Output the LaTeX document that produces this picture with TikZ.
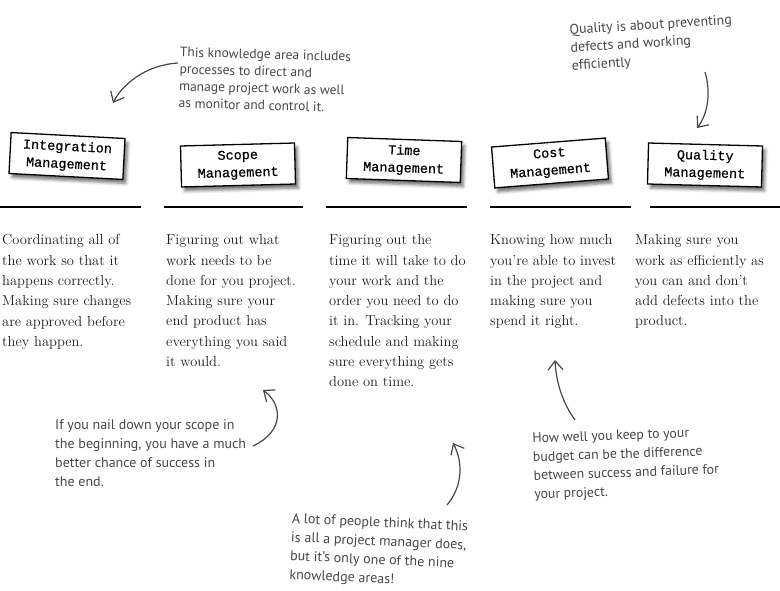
\documentclass[tikz,border=0pt]{standalone}
\usepackage{fontspec}
\newfontfamily\handfont{PT Sans}
\newfontfamily\boxfont[FakeBold=0.6]{Liberation Mono}
\usetikzlibrary{arrows.meta,shadows.blur}
\definecolor{inkgray}{HTML}{474747}
\definecolor{bodyink}{HTML}{1E1E1E}
\tikzset{
  areabox/.style={draw=black, line width=1.3pt, fill=white, minimum width=114pt,
    minimum height=41pt, inner sep=2pt, align=center, text=black,
    font=\boxfont\fontsize{13.5}{17.5}\selectfont,
    blur shadow={shadow xshift=3pt, shadow yshift=-4pt, shadow blur radius=3pt, shadow opacity=55}},
  bodytext/.style={anchor=north west, inner sep=0pt, align=left, text=bodyink,
    font=\fontsize{14.5}{20.3}\selectfont},
  note/.style={anchor=north west, inner sep=0pt, align=left, text=inkgray,
    font=\handfont\fontsize{14}{17}\selectfont},
  rule/.style={line width=1.4pt, black},
  pointer/.style={draw=inkgray, line width=1.2pt,
    -{Straight Barb[length=9pt,width=15pt,line width=1.2pt]}}
}
\begin{document}
\begin{tikzpicture}[x=1pt,y=-1pt]
\useasboundingbox (0,0) rectangle (780,591);

% boxes
\node[areabox, rotate=-3]   (integ) at (67,156)  {Integration\\Management};
\node[areabox, rotate=1.5]  (scope) at (238,165) {Scope\\Management};
\node[areabox, rotate=-2]   (time)  at (404,160) {Time\\Management};
\node[areabox, rotate=4.5]  (cost)  at (550,163) {Cost\\Management};
\node[areabox, rotate=-1.5] (qual)  at (705,165) {Quality\\Management};

% rules
\draw[rule] (0,207) -- (141,207);
\draw[rule] (164,207) -- (303,207);
\draw[rule] (326,207) -- (467,207);
\draw[rule] (490,207) -- (631,207);
\draw[rule] (650,207) -- (780,207);

% body text
\node[bodytext] (tInteg) at (2,234.5) {Coordinating all of\\the work so that it\\happens correctly.\\Making sure changes\\are approved before\\they happen.};
\node[bodytext] (tScope) at (166,234.5) {Figuring out what\\work needs to be\\done for you project.\\Making sure your\\end product has\\everything you said\\it would.};
\node[bodytext] (tTime) at (329,234.5) {Figuring out the\\time it will take to do\\your work and the\\order you need to do\\it in. Tracking your\\schedule and making\\sure everything gets\\done on time.};
\node[bodytext] (tCost) at (490,234.5) {Knowing how much\\you’re able to invest\\in the project and\\making sure you\\spend it right.};
\node[bodytext] (tQual) at (635,234.5) {Making sure you\\work as efficiently as\\you can and don’t\\add defects into the\\product.};

% handwritten notes
\node[note, rotate=-1.5, font=\handfont\fontsize{13.5}{17}\selectfont] (n1) at (180,47) {This knowledge area includes\\processes to direct and\\manage project work as well\\as monitor and control it.};
\node[note, rotate=3.5, font=\handfont\fontsize{14}{18}\selectfont] (n2) at (569,24) {Quality is about preventing\\defects and working\\efficiently};
\node[note, font=\handfont\fontsize{14}{19}\selectfont] (n3) at (55,419) {If you nail down your scope in\\the beginning, you have a much\\better chance of success in\\the end.};
\node[note, rotate=-2.5, font=\handfont\fontsize{14}{18.7}\selectfont] (n4) at (292,513) {A lot of people think that this\\is all a project manager does,\\but it’s only one of the nine\\knowledge areas!};
\node[note, rotate=2, font=\handfont\fontsize{13.8}{18.7}\selectfont] (n5) at (532,433) {How well you keep to your\\budget can be the difference\\between success and failure for\\your project.};

% arrow end points
\coordinate (a1s) at (178,63);  \coordinate (a1e) at (113,103);
\coordinate (a2s) at (705,72);  \coordinate (a2e) at (697,128);
\coordinate (a3s) at (253,446); \coordinate (a3e) at (263,390);
\coordinate (a4s) at (447,505); \coordinate (a4e) at (453,443);
\coordinate (a5s) at (575,420); \coordinate (a5e) at (555,360);

\draw[pointer] (a1s) .. controls (145,65) and (122,85) .. (a1e);
\draw[pointer] (a2s) .. controls (711,92) and (708,114) .. (a2e);
\draw[pointer] (a3s) .. controls (285,431) and (282,404) .. (a3e);
\draw[pointer] (a4s) .. controls (463,486) and (463,462) .. (a4e);
\draw[pointer] (a5s) .. controls (562,402) and (556,381) .. (a5e);
\end{tikzpicture}
\end{document}
